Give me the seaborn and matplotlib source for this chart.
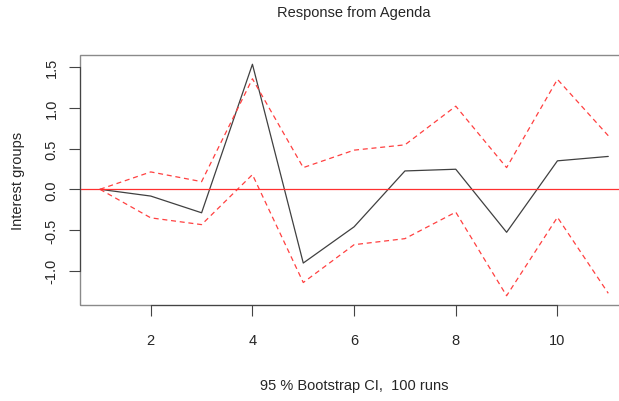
import numpy as np
import pandas as pd
import matplotlib
matplotlib.use("Agg")
import matplotlib.pyplot as plt
from matplotlib.patches import Rectangle
import seaborn as sns

# impulse response of "Interest groups" to a shock in "Agenda"
steps = [1, 2, 3, 4, 5, 6, 7, 8, 9, 10, 11]
irf = [0.0, -0.083, -0.288, 1.533, -0.904, -0.460, 0.225, 0.246, -0.527, 0.349, 0.403]
upper = [0.0, 0.213, 0.094, 1.355, 0.266, 0.480, 0.545, 1.019, 0.266, 1.348, 0.657]
lower = [0.0, -0.350, -0.433, 0.180, -1.143, -0.679, -0.605, -0.280, -1.305, -0.343, -1.275]
x_ticks = [2, 4, 6, 8, 10]
y_ticks = [-1.0, -0.5, 0.0, 0.5, 1.0, 1.5]

df = pd.DataFrame({"step": steps, "irf": irf, "upper": upper, "lower": lower})

sns.set_style("ticks")
plt.rcParams["font.family"] = ["Liberation Sans", "DejaVu Sans"]

fig = plt.figure(figsize=(6.19, 4.02), dpi=100)
# right edge of the R plot region lies past the cropped image edge
ax = fig.add_axes([79.6 / 619, 96 / 402, 549 / 619, 250 / 402])

sns.lineplot(data=df, x="step", y="irf", ax=ax, color="#404040", lw=0.9)
sns.lineplot(data=df, x="step", y="upper", ax=ax, color="#ff4040", lw=0.9,
             linestyle=(0, (4, 3)))
sns.lineplot(data=df, x="step", y="lower", ax=ax, color="#ff4040", lw=0.9,
             linestyle=(0, (4, 3)))
ax.axhline(0, color="#ff3030", lw=0.9)

# R style 4% padding
xr = max(steps) - min(steps)
ax.set_xlim(min(steps) - 0.04 * xr, max(steps) + 0.04 * xr)
ymin, ymax = min(lower), max(irf)
yr = ymax - ymin
ax.set_ylim(ymin - 0.04 * yr, ymax + 0.04 * yr)

ax.set_xticks(x_ticks)
ax.set_xticklabels([str(t) for t in x_ticks])
ax.set_yticks(y_ticks)
ax.set_yticklabels([f"{t:.1f}" for t in y_ticks], rotation=90, va="center")
ax.tick_params(axis="both", direction="out", length=8, width=0.8,
               color="#444444", labelsize=10.5)
ax.tick_params(axis="x", pad=12)
ax.tick_params(axis="y", pad=7)

for s in ["top", "right"]:
    ax.spines[s].set_visible(False)
ax.spines["left"].set_bounds(y_ticks[0], y_ticks[-1])
ax.spines["bottom"].set_bounds(x_ticks[0], x_ticks[-1])
for s in ["left", "bottom"]:
    ax.spines[s].set_color("#444444")
    ax.spines[s].set_linewidth(0.8)
ax.add_patch(Rectangle((0, 0), 1, 1, transform=ax.transAxes, fill=False,
                       edgecolor="#8a8a8a", lw=1.0, clip_on=False, zorder=0))

ax.set_xlabel("")
ax.set_ylabel("Interest groups", fontsize=10.5)
ax.yaxis.set_label_coords(25 / 619, (96 + 125) / 402, transform=fig.transFigure)

fig.text(354 / 619, 1 - 13 / 402, "Response from Agenda", ha="center",
         va="center", fontsize=10.5)
fig.text(354 / 619, 1 - 386 / 402, "95 % Bootstrap CI,  100 runs", ha="center",
         va="center", fontsize=10.5)

fig.savefig("out.png", dpi=100)
